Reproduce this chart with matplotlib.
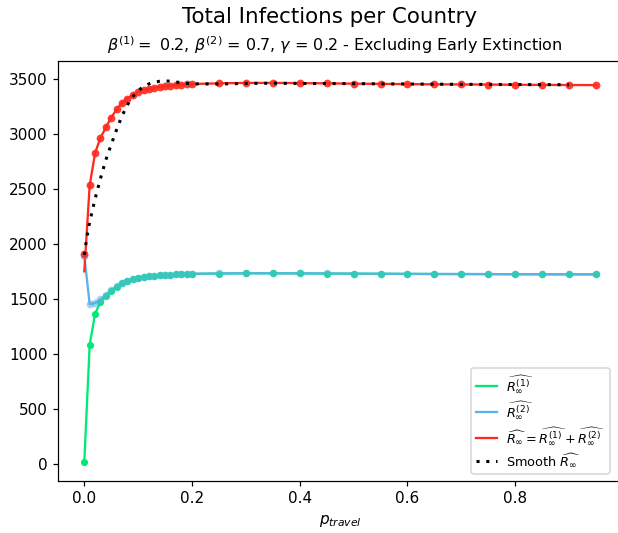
import matplotlib
matplotlib.use("Agg")
import matplotlib.pyplot as plt
import numpy as np

# ---- data ----
p_travel = [0.00, 0.01, 0.02, 0.03, 0.04, 0.05, 0.06, 0.07, 0.08, 0.09, 0.10,
            0.11, 0.12, 0.13, 0.14, 0.15, 0.16, 0.17, 0.18, 0.19, 0.20,
            0.25, 0.30, 0.35, 0.40, 0.45, 0.50, 0.55, 0.60, 0.65, 0.70,
            0.75, 0.80, 0.85, 0.90, 0.95]
r1 = [18, 1083, 1365, 1470, 1525, 1572, 1610, 1640, 1660, 1676, 1690,
      1699, 1705, 1710, 1714, 1717, 1720, 1722, 1724, 1725, 1727,
      1730, 1732, 1732, 1731, 1730, 1729, 1728, 1727, 1726, 1725,
      1725, 1724, 1723, 1723, 1722]
r2 = [1888, 1450, 1462, 1495, 1535, 1578, 1614, 1643, 1663, 1679, 1692,
      1700, 1706, 1711, 1715, 1718, 1721, 1723, 1725, 1726, 1728,
      1731, 1733, 1733, 1732, 1731, 1729, 1728, 1727, 1726, 1726,
      1725, 1724, 1724, 1723, 1723]
total_pts = [1906, 2533, 2827, 2965, 3060, 3150, 3224, 3283, 3323, 3355, 3382,
             3399, 3411, 3421, 3429, 3435, 3441, 3445, 3449, 3451, 3455,
             3461, 3465, 3465, 3463, 3461, 3458, 3456, 3454, 3452, 3451,
             3450, 3448, 3447, 3446, 3445]
total_line = [1750] + total_pts[1:]

smooth_x = [0.000, 0.005, 0.010, 0.020, 0.030, 0.040, 0.050, 0.060, 0.070,
            0.080, 0.090, 0.100, 0.110, 0.120, 0.130, 0.140, 0.150, 0.160,
            0.170, 0.180, 0.190, 0.200, 0.250, 0.300, 0.350, 0.400, 0.500,
            0.600, 0.700, 0.800, 0.900]
smooth_y = [1900, 2070, 2200, 2410, 2595, 2765, 2905, 3040, 3165, 3265,
            3340, 3395, 3432, 3456, 3471, 3480, 3483, 3480, 3474, 3466,
            3460, 3456, 3455, 3460, 3462, 3460, 3458, 3455, 3452, 3450, 3448]

xticks = [0.0, 0.2, 0.4, 0.6, 0.8]
yticks = [0, 500, 1000, 1500, 2000, 2500, 3000, 3500]

GREEN = "#00ea78"
BLUE = "#5ab2e6"
RED = "#ff2a1e"

W, H, DPI = 618, 533, 110
fig = plt.figure(figsize=(W / DPI, H / DPI), dpi=DPI)
ax = fig.add_axes([58.3 / W, (H - 480.7) / H, (621.5 - 58.3) / W, (480.7 - 60.7) / H])
ax.spines["right"].set_visible(False)

ax.plot(p_travel, r1, color=GREEN, lw=1.5, label=r"$\widehat{R^{(1)}_\infty}$", zorder=2)
ax.plot(p_travel, r2, color=BLUE, lw=1.5, label=r"$\widehat{R^{(2)}_\infty}$", zorder=2)
ax.plot(p_travel, total_line, color=RED, lw=1.5,
        label=r"$\widehat{R_\infty} = \widehat{R^{(1)}_\infty} + \widehat{R^{(2)}_\infty}$", zorder=2)
ax.scatter(p_travel, r1, color=GREEN, s=22, zorder=3, linewidths=0)
ax.scatter(p_travel, r2, color=BLUE, s=26, alpha=0.55, zorder=3, linewidths=0)
ax.scatter(p_travel, total_pts, color=RED, s=26, alpha=0.9, zorder=3, linewidths=0)
ax.plot(smooth_x, smooth_y, color="black", lw=2, ls=(0, (1, 2.2)),
        label=r"Smooth $\widehat{R_\infty}$", zorder=4)

ax.set_xticks(xticks)
ax.set_yticks(yticks)
ax.set_xlim(-0.0483, 0.9975)
ax.set_ylim(-155, 3667)
ax.tick_params(labelsize=10)
ax.set_xlabel(r"$p_{travel}$", fontsize=10)

leg = ax.legend(loc="lower right", bbox_to_anchor=(610 / W, (H - 474) / H),
                bbox_transform=fig.transFigure, borderaxespad=0, fontsize=8.4,
                labelspacing=0.35, handlelength=1.6, handletextpad=0.7,
                borderpad=0.4, framealpha=0.8)

fig.text(330 / W, 1 - 17 / H, "Total Infections per Country", ha="center", va="center", fontsize=14)
fig.text(335 / W, 1 - 45 / H,
         r"$\beta^{(1)} = $ 0.2, $\beta^{(2)}$ = 0.7, $\gamma$ = 0.2 - Excluding Early Extinction",
         ha="center", va="center", fontsize=10.5)

fig.savefig("out.png", dpi=DPI)
